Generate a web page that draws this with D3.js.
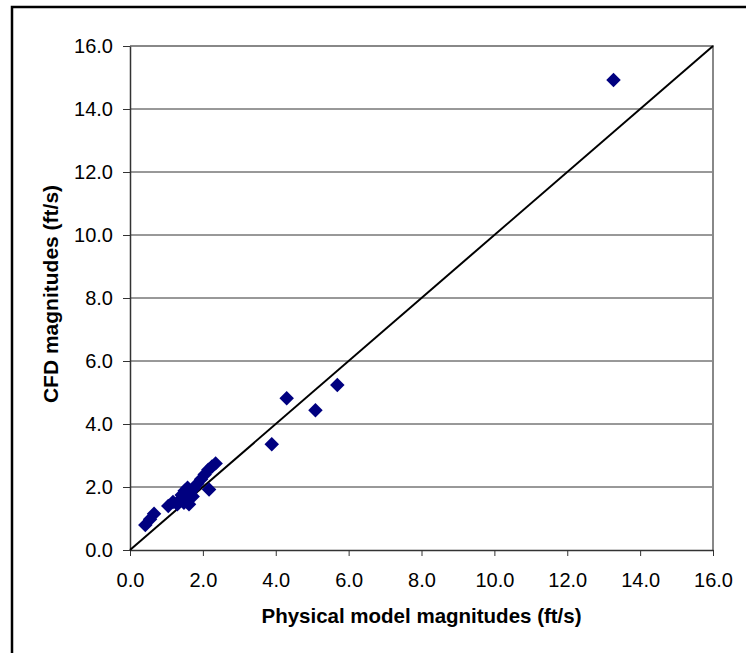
<!DOCTYPE html>
<html>
<head>
<meta charset="utf-8">
<script src="https://cdn.jsdelivr.net/npm/d3@7"></script>
<style>
  body { margin: 0; background: #fff; }
  svg { display: block; font-family: Arial, "Liberation Sans", sans-serif; }
</style>
</head>
<body>
<svg width="746" height="653"></svg>
<script>
// physical model (x) vs CFD (y) velocity magnitudes, ft/s
let physical = [0.42, 0.55, 0.66, 1.05, 1.18, 1.30, 1.38, 1.42, 1.48, 1.50, 1.55, 1.58, 1.62, 1.65, 1.72, 1.75,
                1.85, 1.95, 2.05, 2.15, 2.25, 2.35, 2.17, 3.89, 4.30, 5.09, 5.69, 13.27]
let cfd      = [0.79, 0.98, 1.15, 1.40, 1.52, 1.45, 1.60, 1.75, 1.50, 1.88, 1.65, 1.98, 1.45, 1.80, 1.70, 1.95,
                2.10, 2.25, 2.40, 2.55, 2.65, 2.75, 1.92, 3.36, 4.82, 4.44, 5.24, 14.92]
let xTicks = [0, 2, 4, 6, 8, 10, 12, 14, 16]
let yTicks = [0, 2, 4, 6, 8, 10, 12, 14, 16]
let lineOfEquality = [[0, 0], [16, 16]]

let svg = d3.select("svg")
let plotLeft = 130, plotRight = 713, plotTop = 46, plotBottom = 550

svg.append("rect").attr("width", 746).attr("height", 653).attr("fill", "#fff")
// outer frame (runs off right and bottom edge)
svg.append("rect")
  .attr("x", 12).attr("y", 7).attr("width", 800).attr("height", 800)
  .attr("fill", "none").attr("stroke", "#000").attr("stroke-width", 2.5)

let x = d3.scaleLinear().domain([0, 16]).range([plotLeft, plotRight])
let y = d3.scaleLinear().domain([0, 16]).range([plotBottom, plotTop])

// gridlines
svg.append("g").selectAll("line")
  .data(yTicks.filter(d => d > 0 && d < 16))
  .join("line")
  .attr("x1", plotLeft).attr("x2", plotRight)
  .attr("y1", d => y(d)).attr("y2", d => y(d))
  .attr("stroke", "#333").attr("stroke-width", 1)

// top/right plot border
svg.append("path")
  .attr("d", `M${plotLeft},${plotTop}H${plotRight}V${plotBottom}`)
  .attr("fill", "none").attr("stroke", "#888").attr("stroke-width", 2)

let fmt = d3.format(".1f")

svg.append("g")
  .attr("transform", `translate(${plotLeft},0)`)
  .call(d3.axisLeft(y).tickValues(yTicks).tickFormat(fmt).tickSize(7).tickSizeOuter(0).tickPadding(10))
svg.append("g")
  .attr("transform", `translate(0,${plotBottom})`)
  .call(d3.axisBottom(x).tickValues(xTicks).tickFormat(fmt).tickSize(6).tickSizeOuter(0).tickPadding(17))

svg.selectAll(".domain").attr("stroke", "#333").attr("stroke-width", 1.5)
svg.selectAll(".tick line").attr("stroke", "#333")
svg.selectAll(".tick text").attr("font-size", 20).attr("fill", "#000")
  .attr("font-family", "Arial, 'Liberation Sans', sans-serif")

// 1:1 line
svg.append("path")
  .attr("d", d3.line().x(d => x(d[0])).y(d => y(d[1]))(lineOfEquality))
  .attr("fill", "none").attr("stroke", "#000").attr("stroke-width", 2)

// points
let diamond = d3.symbol().type(d3.symbolSquare).size(105)
svg.append("g").selectAll("path")
  .data(physical.map((p, i) => [p, cfd[i]]))
  .join("path")
  .attr("d", diamond)
  .attr("transform", d => `translate(${x(d[0])},${y(d[1])}) rotate(45)`)
  .attr("fill", "#000080")

// axis titles
svg.append("text")
  .attr("x", (plotLeft + plotRight) / 2).attr("y", 623)
  .attr("text-anchor", "middle")
  .attr("font-size", 20.5).attr("font-weight", "bold")
  .text("Physical model magnitudes (ft/s)")

svg.append("text")
  .attr("transform", "translate(58,294) rotate(-90)")
  .attr("text-anchor", "middle")
  .attr("font-size", 21).attr("font-weight", "bold")
  .text("CFD magnitudes (ft/s)")
</script>
</body>
</html>
